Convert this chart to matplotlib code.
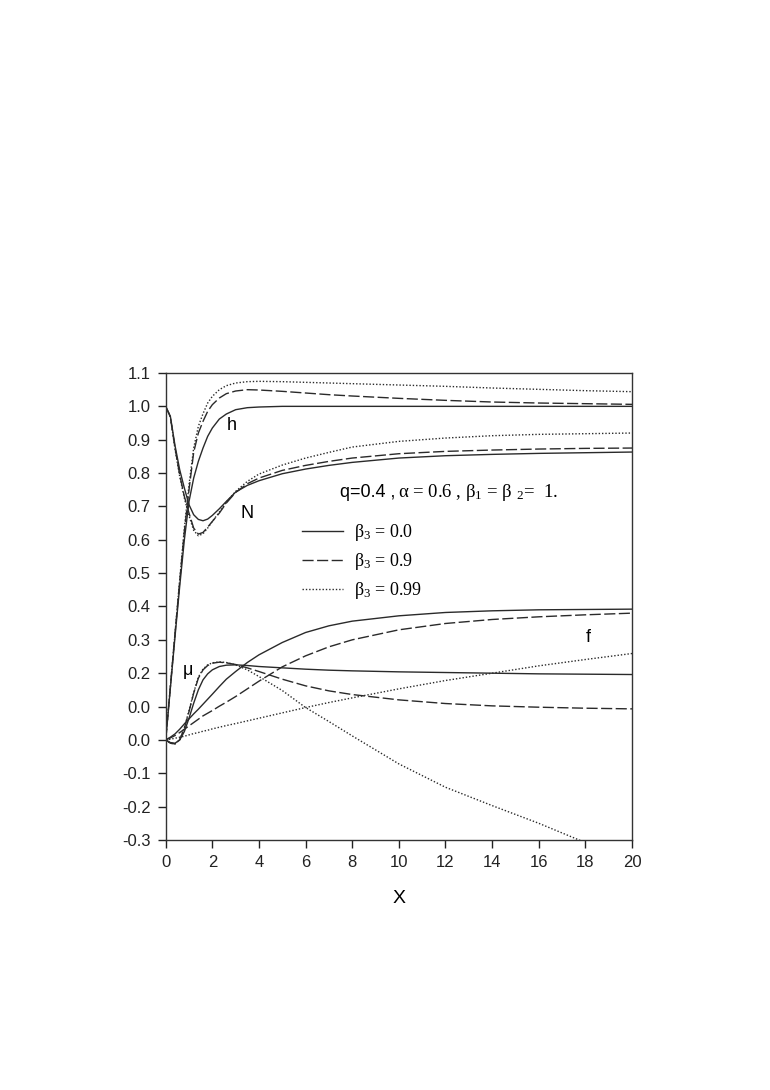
import matplotlib
matplotlib.use("Agg")
import matplotlib.pyplot as plt
import numpy as np

plt.rcParams['font.family'] = ['Liberation Sans', 'DejaVu Sans']
plt.rcParams['mathtext.fontset'] = 'custom'
plt.rcParams['mathtext.rm'] = 'Liberation Serif'
plt.rcParams['mathtext.default'] = 'rm'

# common x grid of the read-off points
xs = [0, 0.2, 0.4, 0.6, 0.8, 1.0, 1.2, 1.4, 1.6, 1.8, 2.0, 2.3, 2.6, 3.0, 3.5,
      4, 5, 6, 7, 8, 10, 12, 14, 16, 18, 20]

# h
h_00 = [0, 0.155, 0.31, 0.46, 0.60, 0.715, 0.785, 0.835, 0.875, 0.91, 0.935, 0.962, 0.977,
        0.99, 0.996, 0.998, 1.0, 1.0, 1.0, 1.0, 1.0, 1.0, 1.0, 1.0, 1.0, 1.0]
h_09 = [0, 0.16, 0.32, 0.475, 0.625, 0.75, 0.862, 0.92, 0.955, 0.985, 1.005, 1.025, 1.038,
        1.046, 1.05, 1.049, 1.045, 1.04, 1.035, 1.031, 1.024, 1.018, 1.013, 1.01, 1.008, 1.006]
h_099 = [0, 0.16, 0.32, 0.48, 0.635, 0.765, 0.875, 0.94, 0.978, 1.01, 1.03, 1.05, 1.062,
         1.07, 1.074, 1.075, 1.074, 1.072, 1.07, 1.068, 1.064, 1.06, 1.055, 1.051, 1.047, 1.044]

# N
N_00 = [1.0, 0.97, 0.882, 0.81, 0.755, 0.705, 0.675, 0.661, 0.657, 0.662, 0.673, 0.693, 0.715,
        0.743, 0.763, 0.777, 0.798, 0.812, 0.823, 0.832, 0.845, 0.852, 0.856, 0.859, 0.861, 0.863]
N_09 = [1.0, 0.968, 0.875, 0.795, 0.73, 0.68, 0.635, 0.617, 0.622, 0.638, 0.655, 0.68, 0.71,
        0.742, 0.768, 0.785, 0.808, 0.823, 0.835, 0.845, 0.858, 0.865, 0.869, 0.872, 0.874, 0.875]
N_099 = [1.0, 0.968, 0.872, 0.79, 0.725, 0.672, 0.628, 0.612, 0.618, 0.635, 0.655, 0.683, 0.713,
         0.745, 0.775, 0.797, 0.824, 0.845, 0.862, 0.878, 0.895, 0.905, 0.912, 0.916, 0.918, 0.92]

# mu
mu_00 = [0, -0.008, -0.01, 0.0, 0.025, 0.065, 0.11, 0.15, 0.18, 0.198, 0.21, 0.22, 0.224,
         0.225, 0.223, 0.22, 0.216, 0.212, 0.209, 0.207, 0.204, 0.202, 0.2, 0.198, 0.197, 0.196]
mu_09 = [0, -0.01, -0.012, 0.0, 0.035, 0.085, 0.14, 0.185, 0.21, 0.223, 0.23, 0.233, 0.231,
         0.226, 0.216, 0.205, 0.182, 0.162, 0.147, 0.136, 0.12, 0.109, 0.102, 0.098, 0.095, 0.093]
mu_099 = [0, -0.01, -0.012, 0.0, 0.037, 0.088, 0.142, 0.188, 0.212, 0.225, 0.231, 0.234, 0.232,
          0.225, 0.21, 0.19, 0.148, 0.097, 0.055, 0.012, -0.072, -0.142, -0.197, -0.25, -0.308, -0.36]

# f
f_00 = [0, 0.008, 0.018, 0.032, 0.048, 0.063, 0.078, 0.092, 0.107, 0.122, 0.137, 0.16, 0.182,
        0.205, 0.232, 0.255, 0.292, 0.322, 0.342, 0.356, 0.372, 0.382, 0.387, 0.39, 0.391, 0.392]
f_09 = [0, 0.006, 0.013, 0.022, 0.032, 0.042, 0.052, 0.062, 0.072, 0.08, 0.088, 0.101, 0.113,
        0.13, 0.153, 0.176, 0.219, 0.252, 0.279, 0.3, 0.33, 0.349, 0.361, 0.369, 0.375, 0.38]
f_099 = [0, 0.002, 0.005, 0.008, 0.011, 0.015, 0.019, 0.022, 0.026, 0.029, 0.033, 0.038, 0.043,
         0.049, 0.057, 0.065, 0.081, 0.097, 0.112, 0.126, 0.153, 0.178, 0.2, 0.222, 0.241, 0.259]

beta3_labels = [r'β$_3$ = 0.0', r'β$_3$ = 0.9', r'β$_3$ = 0.99']
yticks = [-0.3, -0.2, -0.1, 0.0, 0.1, 0.2, 0.3, 0.4, 0.5, 0.6, 0.7, 0.8, 0.9, 1.0, 1.1]
# the original labels the 0.1 tick as "0.0"
ytick_labels = ['-0.3', '-0.2', '-0.1', '0.0', '0.0', '0.2', '0.3', '0.4', '0.5', '0.6',
                '0.7', '0.8', '0.9', '1.0', '1.1']
xticks = [0, 2, 4, 6, 8, 10, 12, 14, 16, 18, 20]

col = '#2a2a2a'
styles = ['-', (0, (8, 2.5)), (0, (1, 1.4))]

fig = plt.figure(figsize=(7.7, 10.9), dpi=100)
ax = fig.add_axes([0.2152, 0.2294, 0.6056, 0.4284])

handles = []
for ls, h, N, mu, f in zip(styles, [h_00, h_09, h_099], [N_00, N_09, N_099],
                           [mu_00, mu_09, mu_099], [f_00, f_09, f_099]):
    line, = ax.plot(xs, h, color=col, lw=1.0, linestyle=ls)
    ax.plot(xs, N, color=col, lw=1.0, linestyle=ls)
    ax.plot(xs, mu, color=col, lw=1.0, linestyle=ls)
    ax.plot(xs, f, color=col, lw=1.0, linestyle=ls)
    handles.append(line)

ax.set_xlim(0, 20)
ax.set_ylim(-0.3, 1.1)
ax.set_xticks(xticks)
ax.set_xticklabels([str(t) for t in xticks])
ax.set_yticks(yticks)
ax.set_yticklabels(ytick_labels)
ax.tick_params(direction='out', length=6, width=1, pad=5, labelsize=12, colors='#222')
for s in ax.spines.values():
    s.set_linewidth(1.0)
    s.set_color('#333')
ax.set_xlabel('X', fontsize=14, labelpad=14)

# curve labels
ax.text(2.83, 0.944, 'h', fontsize=13, ha='center', va='center')
ax.text(3.5, 0.678, 'N', fontsize=13, ha='center', va='center')
ax.text(0.97, 0.208, 'μ', fontsize=13, ha='center', va='center')
ax.text(18.14, 0.308, 'f', fontsize=13, ha='center', va='center')

# parameters
ax.text(7.48, 0.743, 'q=0.4 ,', fontsize=13, ha='left', va='center')
ax.text(9.97, 0.743, r'α = 0.6 , β$_1$ = β $_2$=  1.', fontsize=13.5,
        family=['Liberation Serif', 'DejaVu Serif'], ha='left', va='center')

ax.legend(handles, beta3_labels, loc='upper left', bbox_to_anchor=(0.2917, 0.681),
          frameon=False, borderpad=0, borderaxespad=0, handlelength=2.3,
          handletextpad=0.6, labelspacing=0.45,
          prop={'family': ['Liberation Serif', 'DejaVu Serif'], 'size': 13})

fig.savefig('out.png', dpi=100, facecolor='white')
